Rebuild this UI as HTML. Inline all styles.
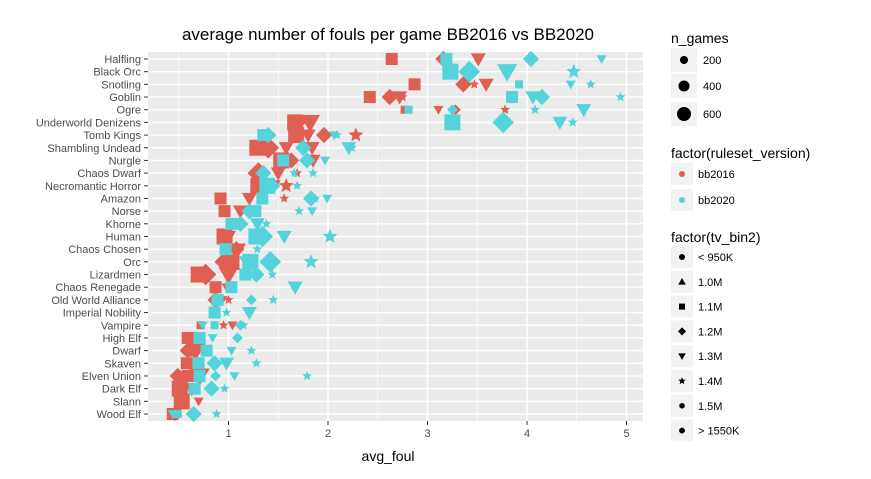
<!DOCTYPE html>
<html><head><meta charset="utf-8">
<style>
body{margin:0;background:#fff;font-family:"Liberation Sans",sans-serif;}
svg text{font-family:"Liberation Sans",sans-serif;}
</style></head>
<body>
<svg id="chart" width="871" height="474">
<rect width="871" height="474" fill="#fff"/>
<text x="388" y="40" text-anchor="middle" font-size="17" fill="#000">average number of fouls per game BB2016 vs BB2020</text>
<rect x="148" y="52" width="495" height="369" fill="#ebebeb"/>
<g id="grid"></g>
<g id="points"></g>
<g id="yaxis"></g>
<g id="xaxis"></g>
<text x="388" y="461" text-anchor="middle" font-size="14" fill="#000">avg_foul</text>
<g id="legend"></g>
</svg>
<script>
const races = ["Halfling","Black Orc","Snotling","Goblin","Ogre","Underworld Denizens","Tomb Kings","Shambling Undead","Nurgle","Chaos Dwarf","Necromantic Horror","Amazon","Norse","Khorne","Human","Chaos Chosen","Orc","Lizardmen","Chaos Renegade","Old World Alliance","Imperial Nobility","Vampire","High Elf","Dwarf","Skaven","Elven Union","Dark Elf","Slann","Wood Elf"];
const xTicks = [1,2,3,4,5];
const versions = ["bb2016","bb2020"];
const versionColors = ["#df5f53","#55d3da"];
const sizeLabels = ["200","400","600"];
const tvBins = ["< 950K","1.0M","1.1M","1.2M","1.3M","1.4M","1.5M","> 1550K"];
const tvShapes = ["circle","tri","sq","dia","tridown","star","hex","oct"];
// [raceIndex, value, shape, size(1-3)]
const bb2016 = [
[0,2.64,"sq",2],[0,3.16,"dia",2],[0,3.51,"tridown",2],
[2,2.87,"sq",2],[2,3.36,"dia",2],[2,3.47,"star",1],[2,3.59,"tridown",2],
[3,2.42,"sq",2],[3,2.62,"dia",2],[3,2.72,"tridown",2],[3,2.75,"star",1],
[4,2.77,"sq",1],[4,3.11,"tridown",1],[4,3.28,"dia",1],[4,3.78,"star",1],
[5,1.67,"sq",3],[5,1.70,"dia",2],[5,1.82,"tridown",3],
[6,1.68,"sq",3],[6,1.80,"tridown",2],[6,1.96,"dia",2],[6,2.28,"star",2],
[7,1.29,"sq",3],[7,1.40,"dia",3],[7,1.58,"tridown",2],[7,1.84,"tridown",2],
[8,1.53,"sq",3],[8,1.63,"dia",2],[8,1.85,"tridown",2],[8,1.63,"star",1],
[9,1.30,"dia",3],[9,1.50,"tridown",2],[9,1.69,"star",1],
[10,1.30,"sq",3],[10,1.45,"tridown",2],[10,1.58,"star",2],
[11,0.92,"sq",2],[11,1.21,"tridown",2],[11,1.56,"star",1],
[12,0.96,"sq",2],[12,1.12,"tridown",2],
[14,0.96,"sq",3],[14,1.00,"tridown",2],
[15,1.08,"dia",2],[15,1.10,"tridown",2],[15,1.09,"star",1],
[16,0.94,"dia",2],[16,1.03,"sq",3],
[17,0.70,"sq",3],[17,0.77,"dia",3],[17,1.00,"tridown",3],
[18,0.87,"sq",2],[18,0.98,"tridown",1],
[19,0.87,"dia",2],[19,0.94,"tridown",1],[19,1.00,"star",1],
[21,0.72,"sq",1],[21,0.95,"star",1],[21,1.04,"tridown",1],
[22,0.59,"sq",2],[22,0.70,"tridown",1],
[23,0.59,"dia",2],[23,0.63,"sq",2],[23,0.67,"tridown",3],
[24,0.58,"sq",2],
[25,0.49,"dia",2],[25,0.59,"sq",2],[25,0.71,"tridown",3],
[26,0.51,"sq",3],[26,0.63,"tridown",2],
[27,0.53,"sq",3],[27,0.70,"tridown",1],
[28,0.44,"sq",2],[28,0.46,"tridown",2]
];
const bb2020 = [
[0,3.19,"sq",2],[0,4.04,"dia",2],[0,4.75,"tridown",1],
[1,3.23,"sq",3],[1,3.42,"dia",3],[1,3.80,"tridown",3],[1,4.47,"star",2],
[2,3.92,"sq",1],[2,4.44,"tridown",1],[2,4.64,"star",1],
[3,3.85,"sq",2],[3,4.06,"tridown",2],[3,4.15,"dia",2],[3,4.94,"star",1],
[4,2.81,"sq",1],[4,3.25,"dia",1],[4,4.08,"star",1],[4,4.57,"tridown",2],
[5,3.25,"sq",3],[5,3.76,"dia",3],[5,4.33,"tridown",2],[5,4.46,"star",1],
[6,1.35,"sq",2],[6,1.40,"dia",2],[6,2.06,"tridown",1],[6,2.09,"star",1],
[7,1.75,"dia",2],[7,2.21,"tridown",2],[7,2.24,"star",1],
[8,1.55,"sq",2],[8,1.79,"dia",2],[8,1.97,"tridown",1],
[9,1.35,"dia",2],[9,1.66,"star",1],[9,1.85,"star",1],
[10,1.39,"sq",3],[10,1.44,"dia",2],[10,1.69,"star",1],
[11,1.34,"sq",2],[11,1.83,"dia",2],[11,1.87,"star",1],[11,1.99,"tridown",1],
[12,1.21,"dia",2],[12,1.27,"sq",2],[12,1.71,"star",1],[12,1.84,"tridown",1],
[13,1.03,"sq",2],[13,1.12,"dia",2],[13,1.29,"tridown",2],[13,1.38,"star",1],
[14,1.28,"sq",3],[14,1.34,"dia",3],[14,1.56,"tridown",2],[14,2.02,"star",2],
[15,0.97,"sq",2],[15,1.29,"star",1],
[16,1.22,"sq",3],[16,1.42,"dia",3],[16,1.18,"tridown",2],[16,1.83,"star",2],
[17,1.17,"sq",2],[17,1.28,"dia",2],[17,1.44,"star",1],
[18,1.03,"sq",2],[18,1.67,"tridown",2],
[19,0.89,"sq",2],[19,1.23,"dia",1],[19,1.45,"star",1],
[20,0.86,"sq",2],[20,0.98,"star",1],[20,1.21,"tridown",2],
[21,0.74,"tridown",1],[21,0.86,"sq",1],[21,1.12,"dia",1],[21,1.15,"star",1],
[22,0.71,"sq",2],[22,0.84,"tridown",1],[22,1.09,"dia",1],
[23,0.78,"sq",2],[23,1.03,"tridown",1],[23,1.23,"star",1],
[24,0.70,"sq",2],[24,0.86,"dia",2],[24,0.98,"tridown",2],[24,1.28,"star",1],
[25,0.71,"sq",2],[25,0.87,"dia",1],[25,1.06,"tridown",1],[25,1.79,"star",1],
[26,0.66,"sq",2],[26,0.83,"dia",2],[26,0.96,"star",1],
[28,0.49,"sq",1],[28,0.44,"tridown",1],[28,0.65,"dia",2],[28,0.88,"star",1]
];
const NS="http://www.w3.org/2000/svg";
const X0=148,X1=643,Y0=52,Y1=421;
function xScale(v){return 129+99.5*v;}
function yScale(i){return 59+i*(414-59)/(races.length-1);}
const sizePx=[0,4,6,8];
function mk(tag,attrs,parent){const e=document.createElementNS(NS,tag);for(const k in attrs)e.setAttribute(k,attrs[k]);parent.appendChild(e);return e;}
function shapeEl(shape,cx,cy,r,color,parent){
  let e;
  if(shape==="sq"){e=mk("rect",{x:cx-r,y:cy-r,width:2*r,height:2*r,fill:color},parent);}
  else if(shape==="dia"){const d=r*1.35;e=mk("polygon",{points:`${cx},${cy-d} ${cx+d},${cy} ${cx},${cy+d} ${cx-d},${cy}`,fill:color},parent);}
  else if(shape==="tridown"){const d=r*1.25;e=mk("polygon",{points:`${cx-d},${cy-d*0.75} ${cx+d},${cy-d*0.75} ${cx},${cy+d}`,fill:color},parent);}
  else if(shape==="tri"){const d=r*1.25;e=mk("polygon",{points:`${cx-d},${cy+d*0.75} ${cx+d},${cy+d*0.75} ${cx},${cy-d}`,fill:color},parent);}
  else if(shape==="star"){let p=[];const R=r*1.3,ri=R*0.45;for(let k=0;k<10;k++){const a=-Math.PI/2+k*Math.PI/5;const rr=k%2?ri:R;p.push((cx+rr*Math.cos(a)).toFixed(1)+","+(cy+rr*Math.sin(a)).toFixed(1));}e=mk("polygon",{points:p.join(" "),fill:color},parent);}
  else if(shape==="hex"||shape==="oct"){const n=shape==="hex"?6:8;let p=[];for(let k=0;k<n;k++){const a=k*2*Math.PI/n+Math.PI/n;p.push((cx+r*Math.cos(a)).toFixed(1)+","+(cy+r*Math.sin(a)).toFixed(1));}e=mk("polygon",{points:p.join(" "),fill:color},parent);}
  else {e=mk("circle",{cx:cx,cy:cy,r:r,fill:color},parent);}
  return e;
}
// grid
const grid=document.getElementById("grid");
for(let v=0.5;v<=5.01;v+=0.5){const x=xScale(v);if(x<X0||x>X1)continue;const l=mk("line",{x1:x,x2:x,y1:Y0,y2:Y1,stroke:"#fff","stroke-width":(v%1===0)?1.4:0.7},grid);

}
races.forEach((r,i)=>{const y=yScale(i);const l=mk("line",{x1:X0,x2:X1,y1:y,y2:y,stroke:"#fff","stroke-width":1.4},grid);

});
// points
const pg=document.getElementById("points");
[bb2016,bb2020].forEach((series,si)=>{series.forEach(p=>{const e=shapeEl(p[2],xScale(p[1]),yScale(p[0]),sizePx[p[3]],versionColors[si],pg);

});});
// axes
const ya=document.getElementById("yaxis");
races.forEach((r,i)=>{const y=yScale(i);mk("line",{x1:144,x2:148,y1:y,y2:y,stroke:"#333"},ya);
const t=mk("text",{x:141,y:y+4,"text-anchor":"end","font-size":11,fill:"#4d4d4d"},ya);t.textContent=r;

});
const xa=document.getElementById("xaxis");
xTicks.forEach(v=>{const x=xScale(v);mk("line",{x1:x,x2:x,y1:421,y2:425,stroke:"#333"},xa);
const t=mk("text",{x:x,y:437,"text-anchor":"middle","font-size":11,fill:"#4d4d4d"},xa);t.textContent=v;

});
// legend
const lg=document.getElementById("legend");
function ltext(x,y,s,fs,name){const t=mk("text",{x:x,y:y,"font-size":fs,fill:"#000"},lg);t.textContent=s;

return t;}
ltext(671,43,"n_games",14,"legend-title-size");
const sizeR=[4,5.5,7];const sizeY=[60,86,114];
sizeLabels.forEach((s,i)=>{mk("rect",{x:671,y:sizeY[i]-12,width:26,height:24,fill:"#f2f2f2"},lg);mk("circle",{cx:684,cy:sizeY[i],r:sizeR[i],fill:"#000"},lg);ltext(703,sizeY[i]+4,s,11,"legend-entry-size");});
ltext(671,158,"factor(ruleset_version)",14,"legend-title-version");
versions.forEach((v,i)=>{const y=174+i*26;mk("rect",{x:671,y:y-11,width:22,height:22,fill:"#f2f2f2"},lg);mk("circle",{cx:682,cy:y,r:3,fill:versionColors[i]},lg);ltext(698,y+4,v,11,"legend-entry-version");});
ltext(671,242,"factor(tv_bin2)",14,"legend-title-tv");
tvBins.forEach((b,i)=>{const y=257+i*24.8;mk("rect",{x:671,y:y-11,width:22,height:22,fill:"#f2f2f2"},lg);shapeEl(tvShapes[i],682,y,3,"#000",lg);ltext(698,y+4,b,11,"legend-entry-tv");});
</script>
</body></html>
